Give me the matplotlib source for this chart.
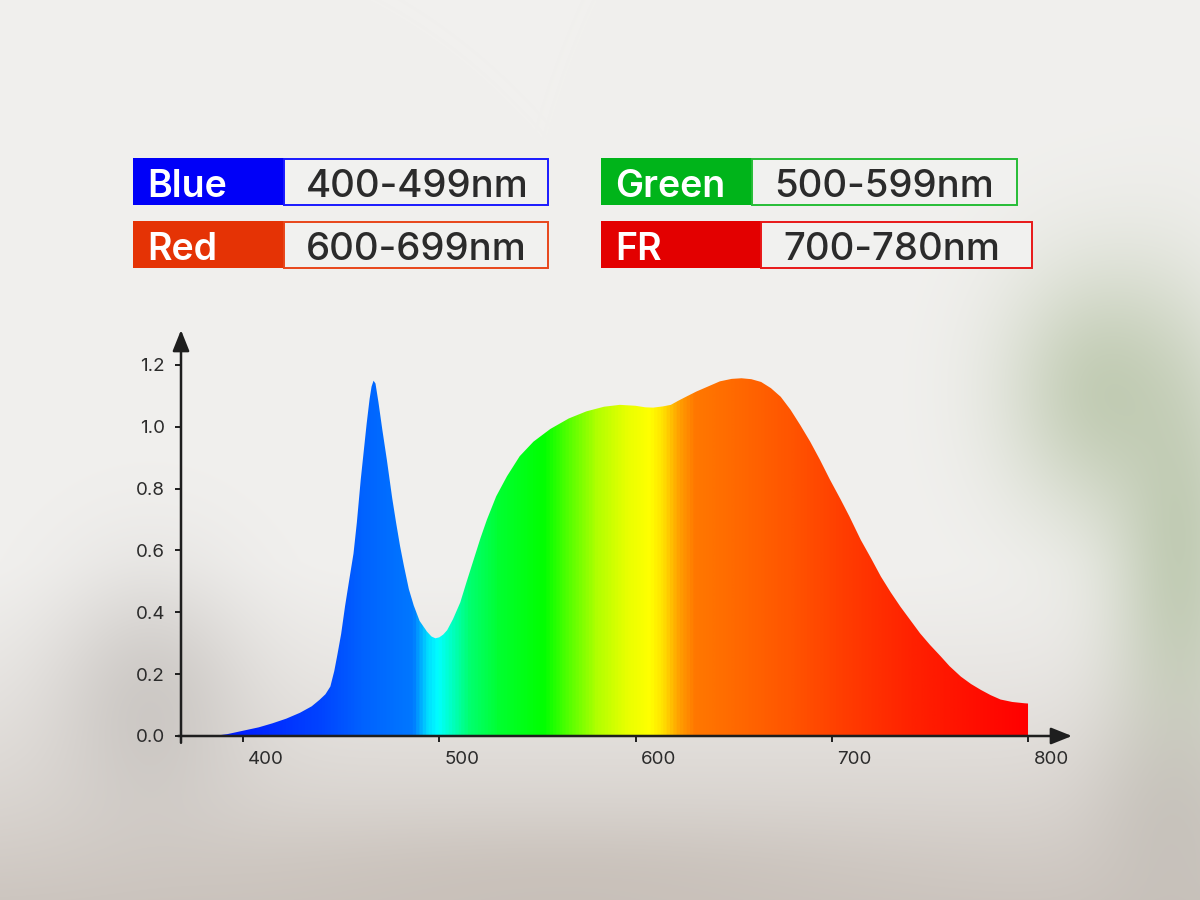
import numpy as np
import matplotlib
matplotlib.use("Agg")
import matplotlib.pyplot as plt
from matplotlib.colors import LinearSegmentedColormap
from matplotlib.patches import Rectangle
from matplotlib.transforms import ScaledTranslation

plt.rcParams['font.family'] = ['Inter', 'DejaVu Sans']

# spectrum (wavelength nm, relative intensity)
wavelength = [375, 385, 392, 400, 408, 415, 422, 429, 435, 439, 442, 444.5, 446.5,
              448, 450, 452, 454, 456.3, 458, 460, 461.5, 463, 464.5, 465.5, 466.5,
              467.5, 469, 471, 473.3, 476, 478, 480, 482, 484.5, 487, 490, 493.7,
              496, 498, 500, 502, 504, 507, 510.7, 514, 517.5, 521, 524.3, 529,
              534.5, 541, 548, 556.6, 566, 575, 584, 592, 600, 605, 609, 614, 618,
              622, 626, 631, 635, 643, 649, 654, 659, 664, 669, 674, 679, 684, 689,
              694, 699, 704.6, 709, 714.8, 720, 725, 730, 735, 740, 745, 750, 755.6,
              760, 765.8, 771, 776, 781, 786, 792, 798, 800]
intensity = [0.0, 0.0, 0.006, 0.017, 0.028, 0.041, 0.056, 0.075, 0.096, 0.117, 0.135,
             0.16, 0.21, 0.26, 0.33, 0.42, 0.50, 0.59, 0.69, 0.83, 0.92, 1.01, 1.09,
             1.13, 1.149, 1.14, 1.08, 0.99, 0.893, 0.77, 0.69, 0.615, 0.55, 0.475, 0.422,
             0.372, 0.338, 0.322, 0.316, 0.319, 0.328, 0.342, 0.378, 0.432, 0.50, 0.57,
             0.64, 0.70, 0.775, 0.84, 0.905, 0.952, 0.993, 1.027, 1.05, 1.065, 1.071,
             1.068, 1.063, 1.062, 1.066, 1.071, 1.085, 1.098, 1.114, 1.125, 1.147,
             1.155, 1.157, 1.154, 1.145, 1.125, 1.097, 1.055, 1.005, 0.952, 0.893, 0.83,
             0.764, 0.71, 0.634, 0.575, 0.516, 0.465, 0.418, 0.375, 0.332, 0.295,
             0.257, 0.226, 0.192, 0.168, 0.149, 0.132, 0.118, 0.11, 0.106, 0.105]

x_ticks = [400, 500, 600, 700, 800]
y_ticks = [0.0, 0.2, 0.4, 0.6, 0.8, 1.0, 1.2]

band_names = ["Blue", "Green", "Red", "FR"]
band_ranges = ["400-499nm", "500-599nm", "600-699nm", "700-780nm"]
band_colors = ["#0000f8", "#00b41a", "#e53305", "#e30000"]
band_edges = ["#1a1aff", "#26bd36", "#e8461a", "#e81818"]

# colour stops of the spectrum fill
stop_wl = [375, 400, 440, 460, 486, 493, 499, 506, 515, 530, 553, 565, 580, 595, 607,
           614, 622, 630, 650, 680, 710, 740, 770, 800]
stop_col = ["#0018ff", "#0020ff", "#0045ff", "#0062ff", "#0078ff", "#00d8ff", "#00ffff",
            "#00ffc0", "#00ff70", "#00ff30", "#00ff00", "#50ff00", "#b0ff00", "#e8ff00",
            "#ffff00", "#ffe000", "#ffa000", "#ff7800", "#ff6a00", "#ff5400", "#ff3a00",
            "#ff2200", "#ff1000", "#ff0000"]

# ---- background (soft blurred photo look) ----
H, W = 900, 1200
yy, xx = np.mgrid[0:H, 0:W].astype(float)
top = np.array([241, 240, 238.0])
bot = np.array([205, 198, 192.0])
t = np.clip((yy - 560) / 340, 0, 1)[..., None] ** 1.3
img = top * (1 - t) + bot * t


def blob(cx, cy, sx, sy, col, a):
    g = a * np.exp(-((xx - cx) ** 2 / (2 * sx ** 2) + (yy - cy) ** 2 / (2 * sy ** 2)))
    return g[..., None], np.array(col, float)


for cx, cy, sx, sy, col, a in [(150, 700, 70, 90, (185, 180, 176), 0.55),
                               (1100, 390, 70, 90, (168, 184, 148), 0.6),
                               (1180, 560, 50, 150, (165, 182, 146), 0.6),
                               (1170, 820, 60, 80, (190, 183, 178), 0.5),
                               (560, 880, 250, 40, (195, 186, 178), 0.5)]:
    g, c = blob(cx, cy, sx, sy, col, a)
    img = img * (1 - g) + c * g
img = np.clip(img, 0, 255).astype(np.uint8)

fig = plt.figure(figsize=(12, 9), dpi=100)
bg = fig.add_axes([0, 0, 1, 1])
bg.imshow(img, extent=[0, W, H, 0], aspect='auto', zorder=0)
bg.set_xlim(0, W)
bg.set_ylim(H, 0)
bg.axis('off')

# ---- legend boxes (pixel coords) ----
boxes = [(133, 158, 151, 264), (601, 158, 151, 265), (133, 221, 151, 264), (601, 221, 160, 271)]
for name, rng, fc, ec, (x0, y0, w1, w2) in zip(band_names, band_ranges, band_colors,
                                                  band_edges, boxes):
    bg.add_patch(Rectangle((x0, y0), w1, 47, facecolor=fc, edgecolor='none', zorder=2))
    bg.add_patch(Rectangle((x0 + w1, y0 + 0.5), w2, 46, facecolor='#f1f1ef',
                           edgecolor=ec, lw=1.4, zorder=2))
    bl = y0 + 39
    bg.text(x0 + 14, bl, name, color='white', fontsize=27, fontweight='semibold',
            va='baseline', ha='left', zorder=3)
    bg.text(x0 + w1 + 22, bl, rng, color='#2b2b2b', fontsize=27.6, fontweight='medium',
            va='baseline', ha='left', zorder=3)

# ---- spectrum chart ----
px_nm = 1.9625
xmin, xmax = 368.4, 822.4
ymax = 1.32
px_unit = 309.2
ax = fig.add_axes([181.0 / W, 164.0 / H, (xmax - xmin) * px_nm / W, ymax * px_unit / H])
ax.set_xlim(xmin, xmax)
ax.set_ylim(0, ymax)
ax.patch.set_alpha(0)
for s in ax.spines.values():
    s.set_visible(False)

cmap = LinearSegmentedColormap.from_list(
    "spec", [((w - stop_wl[0]) / (stop_wl[-1] - stop_wl[0]), c) for w, c in zip(stop_wl, stop_col)])
poly_x = wavelength + [800]
poly_y = intensity + [0]
shape = ax.fill(poly_x, poly_y, facecolor='none', edgecolor='none')[0]
grad = np.linspace(0, 1, 1000)[None, :]
im = ax.imshow(grad, extent=[stop_wl[0], stop_wl[-1], 0, 1.25], aspect='auto',
               cmap=cmap, interpolation='bilinear', zorder=2)
im.set_clip_path(shape)

axis_col = '#1e1e1e'
arrow = dict(arrowstyle='-|>,head_length=0.75,head_width=0.3', lw=1.8, color=axis_col,
             shrinkA=0, shrinkB=0, mutation_scale=17)
ax.annotate('', xy=(xmax, 0), xytext=(xmin - 1.5, 0), arrowprops=arrow,
            annotation_clip=False, zorder=4)
ax.annotate('', xy=(xmin, 1.313), xytext=(xmin, -0.022), arrowprops=arrow,
            annotation_clip=False, zorder=4)

ax.set_xticks(x_ticks)
ax.set_xticklabels([str(v) for v in x_ticks])
ax.set_yticks(y_ticks)
ax.set_yticklabels([f"{v:.1f}" for v in y_ticks])
ax.tick_params(axis='both', length=4.5, width=1.4, color=axis_col, labelcolor='#2b2b2b',
               labelsize=13.5)
ax.tick_params(axis='y', pad=7)
ax.tick_params(axis='x', pad=6)
offset = ScaledTranslation(23 / 100, 0, fig.dpi_scale_trans)
for lab in ax.get_xticklabels():
    lab.set_transform(lab.get_transform() + offset)

fig.savefig("out.png", dpi=100)
